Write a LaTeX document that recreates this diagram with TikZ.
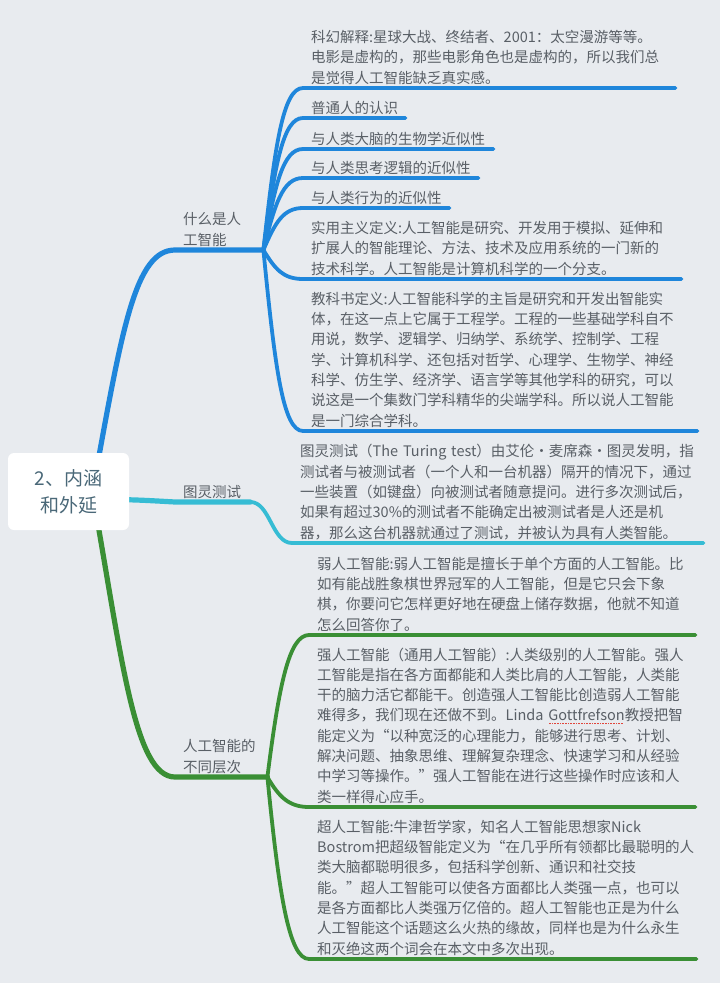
\documentclass[tikz,border=0pt]{standalone}
\usepackage{fontspec}
\setmainfont{Noto Sans CJK SC}
\usetikzlibrary{backgrounds}
\definecolor{paper}{HTML}{E8EBEF}
\definecolor{ink}{HTML}{595F66}
\definecolor{rootink}{HTML}{4A6878}
\definecolor{sky}{HTML}{1F86DB}
\definecolor{aqua}{HTML}{36BCD4}
\definecolor{leaf}{HTML}{3A8F35}
\definecolor{spellred}{HTML}{E0463C}

\newsavebox\wavebox
\newcommand\spellwave[1]{\sbox\wavebox{#1}\rlap{\color{spellred}\raisebox{-3.2pt}{\hbox to\wd\wavebox{\leaders\hbox to 1.6pt{\hss\rule{0.8pt}{0.8pt}\hss}\hfill}}}\usebox\wavebox}

\tikzset{
  topic/.style={anchor=south west,inner xsep=8pt,inner ysep=0pt,align=left,text=ink,
    font=\fontsize{14.5}{20.3}\selectfont,execute at end node={\rule[-4.7pt]{0pt}{4.7pt}}},
  trunk/.style={line width=5.2pt,line cap=round},
  twig/.style={line width=3.8pt,line cap=round},
}

\begin{document}
\begin{tikzpicture}[x=1pt,y=-1pt]
\useasboundingbox (0,0) rectangle (720,983);

\node[fill=white,rounded corners=6pt,minimum width=121pt,minimum height=77pt,align=center,
  text=rootink,font=\fontsize{19}{27}\selectfont] (root) at (68.5,491.5) {2、内涵\\和外延};

\node[topic,text width=72pt] (what) at (175,250) {什么是人\\工智能};
\node[topic,text width=59pt] (turing) at (175,502) {图灵测试};
\node[topic,text width=76pt] (levels) at (175,777) {人工智能的\\不同层次};

\node[topic,text width=356pt] (scifi) at (303,88) {科幻解释:星球大战、终结者、2001：太空漫游等等。\\电影是虚构的，那些电影角色也是虚构的，所以我们总\\是觉得人工智能缺乏真实感。};
\node[topic,text width=86pt] (folk) at (303,118) {普通人的认识};
\node[topic,text width=174pt] (brain) at (303,149) {与人类大脑的生物学近似性};
\node[topic,text width=159pt] (logic) at (303,178) {与人类思考逻辑的近似性};
\node[topic,text width=130pt] (behave) at (303,208) {与人类行为的近似性};
\node[topic,text width=362pt] (pragma) at (303,279) {实用主义定义:人工智能是研究、开发用于模拟、延伸和\\扩展人的智能理论、方法、技术及应用系统的一门新的\\技术科学。人工智能是计算机科学的一个分支。};
\node[topic,text width=378pt] (textbook) at (303,431) {教科书定义:人工智能科学的主旨是研究和开发出智能实\\体，在这一点上它属于工程学。工程的一些基础学科自不\\用说，数学、逻辑学、归纳学、系统学、控制学、工程\\学、计算机科学、还包括对哲学、心理学、生物学、神经\\科学、仿生学、经济学、语言学等其他学科的研究，可以\\说这是一个集数门学科精华的尖端学科。所以说人工智能\\是一门综合学科。};

\node[topic,text width=395pt] (test) at (292,543) {图灵测试（The~Turing~test）由艾伦·麦席森·图灵发明，指\\测试者与被测试者（一个人和一台机器）隔开的情况下，通过\\一些装置（如键盘）向被测试者随意提问。进行多次测试后，\\如果有超过30\%的测试者不能确定出被测试者是人还是机\\器，那么这台机器就通过了测试，并被认为具有人类智能。};

\node[topic,text width=370pt] (weak) at (309,635) {弱人工智能:弱人工智能是擅长于单个方面的人工智能。比\\如有能战胜象棋世界冠军的人工智能，但是它只会下象\\棋，你要问它怎样更好地在硬盘上储存数据，他就不知道\\怎么回答你了。};
\node[topic,text width=370pt] (strong) at (309,807) {强人工智能（通用人工智能）:人类级别的人工智能。强人\\工智能是指在各方面都能和人类比肩的人工智能，人类能\\干的脑力活它都能干。创造强人工智能比创造弱人工智能\\难得多，我们现在还做不到。Linda~\spellwave{Gottfrefson}教授把智\\能定义为“以种宽泛的心理能力，能够进行思考、计划、\\解决问题、抽象思维、理解复杂理念、快速学习和从经验\\中学习等操作。”强人工智能在进行这些操作时应该和人\\类一样得心应手。};
\node[topic,text width=371pt] (super) at (309,959) {超人工智能:牛津哲学家，知名人工智能思想家Nick\\Bostrom把超级智能定义为“在几乎所有领都比最聪明的人\\类大脑都聪明很多，包括科学创新、通识和社交技\\能。”超人工智能可以使各方面都比人类强一点，也可以\\是各方面都比人类强万亿倍的。超人工智能也正是为什么\\人工智能这个话题这么火热的缘故，同样也是为什么永生\\和灭绝这两个词会在本文中多次出现。};

\begin{scope}[on background layer]
\fill[paper] (0,0) rectangle (720,983);

\draw[trunk,sky] ([shift={(26,-11)}]root.center) .. controls (122,330) and (135,250) .. (what.south west) -- (what.south east);
\draw[trunk,aqua] ([shift={(30,7.5)}]root.center) .. controls (140,500) .. (turing.south west) -- (turing.south east);
\draw[trunk,leaf] ([shift={(26,13)}]root.center) .. controls (122,660) and (135,777) .. (levels.south west) -- (levels.south east);

\draw[twig,sky] (what.south east) .. controls (275,145) and (283,88) .. (scifi.south west) -- (scifi.south east);
\draw[twig,sky] (what.south east) .. controls (275,164) and (283,118) .. (folk.south west) -- (folk.south east);
\draw[twig,sky] (what.south east) .. controls (275,184) and (283,149) .. (brain.south west) -- (brain.south east);
\draw[twig,sky] (what.south east) .. controls (275,203) and (283,178) .. (logic.south west) -- (logic.south east);
\draw[twig,sky] (what.south east) .. controls (275,223) and (283,208) .. (behave.south west) -- (behave.south east);
\draw[twig,sky] (what.south east) .. controls (275,269) and (283,279) .. (pragma.south west) -- (pragma.south east);
\draw[twig,sky] (what.south east) .. controls (275,368) and (283,431) .. (textbook.south west) -- (textbook.south east);

\draw[twig,aqua] (turing.south east) .. controls (270,502) and (272,543) .. (test.south west) -- (test.south east);

\draw[twig,leaf] (levels.south east) .. controls (279,685) and (289,635) .. (weak.south west) -- (weak.south east);
\draw[twig,leaf] (levels.south east) .. controls (279,797) and (289,807) .. (strong.south west) -- (strong.south east);
\draw[twig,leaf] (levels.south east) .. controls (279,895) and (289,959) .. (super.south west) -- (super.south east);
\end{scope}
\end{tikzpicture}
\end{document}
